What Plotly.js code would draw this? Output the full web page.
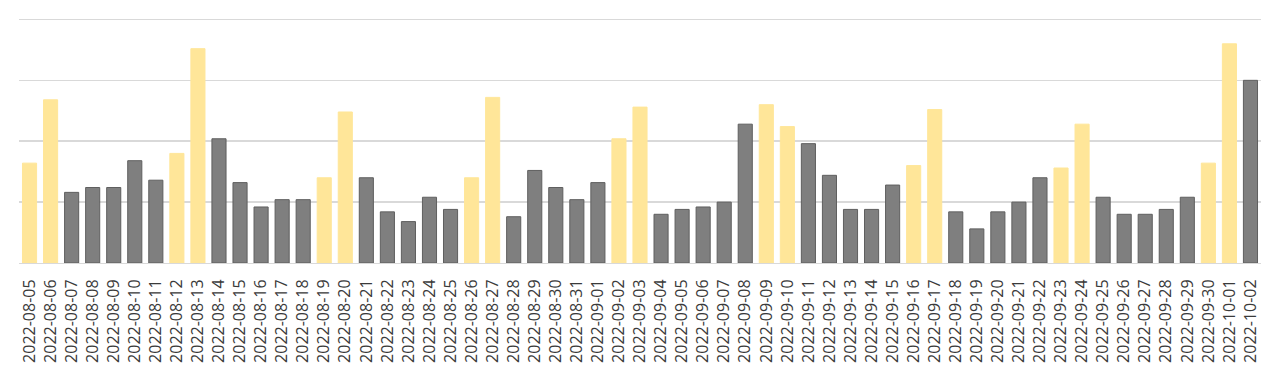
<!DOCTYPE html>
<html>
<head>
<meta charset="utf-8">
<script src="https://cdn.plot.ly/plotly-3.0.1.min.js"></script>
<style>html,body{margin:0;padding:0;background:#fff;}#chart{width:1280px;height:371px;}</style>
</head>
<body>
<div id="chart"></div>
<script>
const dates = [
  "2022-08-05","2022-08-06","2022-08-07","2022-08-08","2022-08-09","2022-08-10","2022-08-11",
  "2022-08-12","2022-08-13","2022-08-14","2022-08-15","2022-08-16","2022-08-17","2022-08-18",
  "2022-08-19","2022-08-20","2022-08-21","2022-08-22","2022-08-23","2022-08-24","2022-08-25",
  "2022-08-26","2022-08-27","2022-08-28","2022-08-29","2022-08-30","2022-08-31","2022-09-01",
  "2022-09-02","2022-09-03","2022-09-04","2022-09-05","2022-09-06","2022-09-07","2022-09-08",
  "2022-09-09","2022-09-10","2022-09-11","2022-09-12","2022-09-13","2022-09-14","2022-09-15",
  "2022-09-16","2022-09-17","2022-09-18","2022-09-19","2022-09-20","2022-09-21","2022-09-22",
  "2022-09-23","2022-09-24","2022-09-25","2022-09-26","2022-09-27","2022-09-28","2022-09-29",
  "2022-09-30","2022-10-01","2022-10-02"
];
const values = [
  41,67,29,31,31,42,34,
  45,88,51,33,23,26,26,
  35,62,35,21,17,27,22,
  35,68,19,38,31,26,33,
  51,64,20,22,23,25,57,
  65,56,49,36,22,22,32,
  40,63,21,14,21,25,35,
  39,57,27,20,20,22,27,
  41,90,75
];
// Friday and Saturday are highlighted
const highlightDays = [5, 6];

const YELLOW = "#FFE699";
const GREY = "#7F7F7F";
const isHi = dates.map(d => highlightDays.includes(new Date(d + "T00:00:00Z").getUTCDay()));
const fill = isHi.map(h => h ? YELLOW : GREY);
const edge = isHi.map(h => h ? YELLOW : "#5f5f5f");

Plotly.newPlot("chart", [{
  type: "bar",
  x: dates,
  y: values,
  marker: {color: fill, line: {color: edge, width: 1}},
  hoverinfo: "x+y"
}], {
  width: 1280, height: 371,
  margin: {l: 19, r: 19, t: 17, b: 108, pad: 0},
  paper_bgcolor: "#fff", plot_bgcolor: "#fff",
  bargap: 0.33,
  showlegend: false,
  xaxis: {
    type: "category",
    tickangle: -90,
    tickfont: {family: "Open Sans", size: 16, color: "#3a3a3a"},
    showgrid: false,
    showline: true, linecolor: "#d9d9d9", linewidth: 1,
    ticks: "", ticklabelstandoff: 9,
    automargin: false
  },
  yaxis: {
    range: [0, 101], dtick: 25,
    showticklabels: false,
    showgrid: true, gridcolor: "#d9d9d9", gridwidth: 1.5,
    zeroline: false, ticks: "",
    automargin: false
  }
}, {displayModeBar: false, staticPlot: true});
</script>
</body>
</html>
